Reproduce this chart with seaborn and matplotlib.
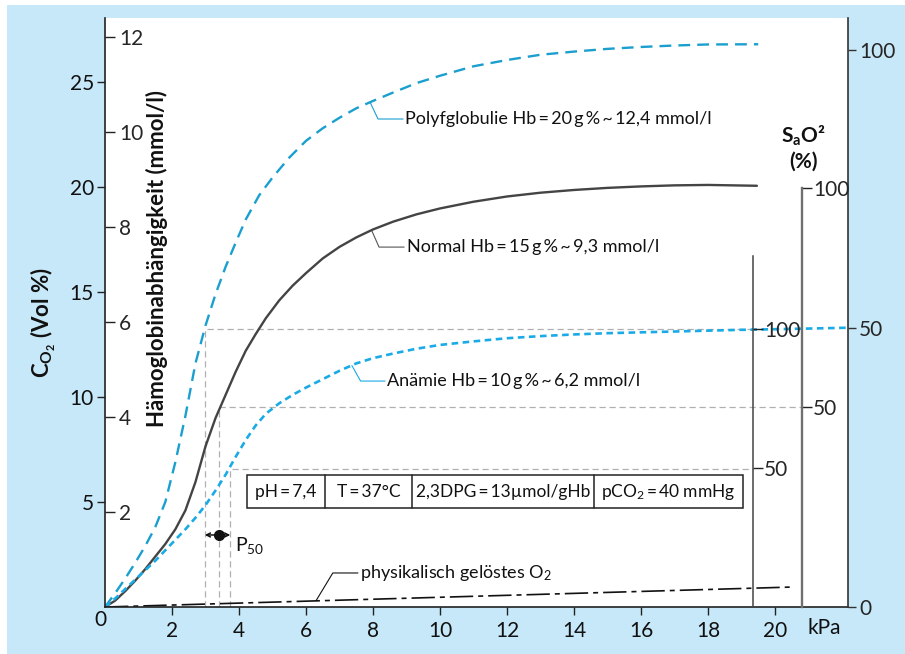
import matplotlib
matplotlib.use("Agg")
import matplotlib.pyplot as plt
import seaborn as sns
from matplotlib.patches import Rectangle

# O2 binding curves: pO2 (kPa) vs O2 content (Vol %)
poly_kpa = [0, 0.3, 0.6, 0.9, 1.2, 1.5, 1.8, 2.1, 2.4, 2.7, 3.0, 3.3, 3.6, 3.9, 4.2, 4.6,
            5.0, 5.5, 6.0, 6.5, 7.0, 7.5, 8.0, 8.6, 9.3, 10.0, 11.0, 12.0, 13.0, 14.0,
            15.0, 16.0, 17.0, 18.0, 19.5]
poly_vol = [0, 0.65, 1.35, 2.1, 2.9, 3.8, 5.0, 6.9, 9.1, 11.6, 13.4, 14.9, 16.2, 17.35,
            18.45, 19.6, 20.45, 21.4, 22.2, 22.8, 23.3, 23.75, 24.1, 24.5, 24.95, 25.3,
            25.75, 26.05, 26.3, 26.45, 26.58, 26.67, 26.74, 26.79, 26.8]

normal_kpa = [0, 0.3, 0.6, 0.9, 1.2, 1.5, 1.8, 2.1, 2.4, 2.7, 3.0, 3.3, 3.6, 3.9, 4.2,
              4.5, 4.8, 5.2, 5.6, 6.0, 6.5, 7.0, 7.5, 8.0, 8.6, 9.3, 10.0, 11.0, 12.0,
              13.0, 14.0, 15.0, 16.0, 17.0, 18.0, 19.46]
normal_vol = [0, 0.3, 0.75, 1.25, 1.8, 2.4, 3.0, 3.7, 4.6, 5.95, 7.65, 9.0, 10.1, 11.2,
              12.2, 13.0, 13.75, 14.6, 15.3, 15.9, 16.6, 17.15, 17.6, 17.98, 18.35, 18.7,
              18.98, 19.3, 19.55, 19.73, 19.86, 19.96, 20.03, 20.08, 20.1, 20.06]

anemia_kpa = [0, 0.3, 0.6, 0.9, 1.2, 1.5, 1.8, 2.1, 2.4, 2.7, 3.0, 3.3, 3.6, 3.9, 4.2,
              4.5, 4.8, 5.2, 5.6, 6.0, 6.5, 7.0, 7.5, 8.0, 8.6, 9.3, 10.0, 11.0, 12.0,
              13.0, 14.0, 15.0, 16.0, 17.0, 18.0, 19.0, 20.0, 21.0, 22.18]
anemia_vol = [0, 0.4, 0.85, 1.3, 1.75, 2.2, 2.7, 3.2, 3.7, 4.25, 4.85, 5.55, 6.3, 7.15,
              7.95, 8.65, 9.2, 9.7, 10.1, 10.45, 10.85, 11.25, 11.6, 11.85, 12.07, 12.3,
              12.48, 12.65, 12.8, 12.9, 12.98, 13.04, 13.08, 13.12, 13.16, 13.2, 13.23,
              13.26, 13.3]

dissolved_kpa = [0, 20.5]
dissolved_vol = [0, 0.95]

# half saturation points (P50) of the three curves
p50_kpa = [2.98, 3.41, 3.74]
half_vol = [13.24, 9.52, 6.57]
guide_end = [19.34, 20.8, 19.34]

p50_normal = 3.41
p50_marker_vol = 3.43

table_cells = ["pH\u2009=\u20097,4", "T\u2009=\u200937°C", "2,3DPG\u2009=\u200913µmol/gHb",
               "pCO$_2$\u2009=\u200940 mmHg"]
table_edges = [4.24, 6.57, 9.16, 14.6, 19.04]
table_bottom, table_top = 4.71, 6.29

vol_ticks = [5, 10, 15, 20, 25]
hb_ticks = [2, 4, 6, 8, 10, 12]
kpa_ticks = [2, 4, 6, 8, 10, 12, 14, 16, 18, 20]
sat_ticks = [0, 50, 100]

BG = "#c7e8f8"
BLUE_POLY = "#1b9fcf"
BLUE_ANEMIA = "#1aabe6"
DARK = "#444444"
GUIDE = "#b0b0b0"

sns.set_theme(style="white")
plt.rcParams['font.family'] = ['Lato', 'DejaVu Sans']
plt.rcParams['mathtext.fontset'] = 'custom'
plt.rcParams['mathtext.rm'] = 'Lato'
plt.rcParams['mathtext.it'] = 'Lato:italic'
plt.rcParams['mathtext.bf'] = 'Lato:bold'
plt.rcParams['text.color'] = '#111111'

W, H = 905, 654
TICK_FS = 15
TXT_FS = 13
TABLE_FS = 12.5


def fx(px):
    return px / W


def fy(py):
    return 1 - py / H


fig = plt.figure(figsize=(W / 100, H / 100), dpi=100, facecolor="white")
fig.patches.append(Rectangle((fx(7), 0), 1 - fx(7), fy(5), transform=fig.transFigure,
                             facecolor=BG, edgecolor="none", zorder=-10))

# main axes
ax = fig.add_axes([fx(105), fy(607), (848 - 105) / W, (607 - 18) / H])
ax.set_facecolor("white")
ax.set_xlim(0, 22.18)
ax.set_ylim(0, 28.05)
for s in ["top", "right"]:
    ax.spines[s].set_visible(False)
for s in ["left", "bottom"]:
    ax.spines[s].set_color("#222222")
    ax.spines[s].set_linewidth(1.2)
ax.set_xticks(kpa_ticks)
ax.set_yticks(vol_ticks)
ax.tick_params(axis="both", which="both", direction="out", length=6, width=1,
               color="#222222", labelsize=TICK_FS, pad=2, labelcolor="#111111")
ax.tick_params(axis="x", pad=4, bottom=True)
ax.tick_params(axis="y", left=True)
ax.set_xlabel("")
ax.set_ylabel("")

# curves
sns.lineplot(x=poly_kpa, y=poly_vol, ax=ax, color=BLUE_POLY, linewidth=1.7,
             linestyle=(0, (5, 3)), sort=False, errorbar=None)
sns.lineplot(x=normal_kpa, y=normal_vol, ax=ax, color=DARK, linewidth=1.7,
             sort=False, errorbar=None)
sns.lineplot(x=anemia_kpa, y=anemia_vol, ax=ax, color=BLUE_ANEMIA, linewidth=1.9,
             linestyle=(0, (2.5, 1.7)), sort=False, errorbar=None, clip_on=False)
sns.lineplot(x=dissolved_kpa, y=dissolved_vol, ax=ax, color="#111111", linewidth=1.2,
             linestyle=(0, (14, 3, 3, 3)), sort=False, errorbar=None)

# P50 guide lines
for xk, yv, xe in zip(p50_kpa, half_vol, guide_end):
    ax.plot([xk, xk, xe], [0, yv, yv], color=GUIDE, lw=0.9, ls=(0, (5, 3)), zorder=1)

# P50 marker
ax.annotate("", xy=(p50_kpa[0], p50_marker_vol), xytext=(p50_kpa[2], p50_marker_vol),
            arrowprops=dict(arrowstyle="<->", color="#111111", lw=1.1,
                            shrinkA=0, shrinkB=0, mutation_scale=7))
ax.plot([p50_normal], [p50_marker_vol], "o", color="#111111", ms=7)
ax.text(3.88, 2.95, "P$_{50}$", fontsize=TXT_FS + 1, va="center", ha="left")

# conditions table
ax.add_patch(Rectangle((table_edges[0], table_bottom), table_edges[-1] - table_edges[0],
                       table_top - table_bottom, facecolor="white", edgecolor="#222222",
                       lw=1.1, zorder=3))
for xe in table_edges[1:-1]:
    ax.plot([xe, xe], [table_bottom, table_top], color="#222222", lw=1.1, zorder=4)
for left, right, label in zip(table_edges[:-1], table_edges[1:], table_cells):
    ax.text((left + right) / 2, (table_bottom + table_top) / 2, label, ha="center",
            va="center", fontsize=TABLE_FS, zorder=5)

# curve labels with leaders
ax.plot([7.91, 8.15, 8.9], [24.05, 23.24, 23.24], color=BLUE_POLY, lw=0.8)
ax.text(8.96, 23.24, "Polyfglobulie Hb\u2009=\u200920\u2009g\u2009%\u2009~\u200912,4 mmol/l",
        fontsize=TXT_FS, va="center", ha="left")
ax.plot([7.97, 8.18, 8.93], [17.9, 17.14, 17.14], color="#555555", lw=0.8)
ax.text(9.01, 17.14, "Normal Hb\u2009=\u200915\u2009g\u2009%\u2009~\u20099,3 mmol/l",
        fontsize=TXT_FS, va="center", ha="left")
ax.plot([7.37, 7.63, 8.36], [11.5, 10.76, 10.76], color=BLUE_ANEMIA, lw=0.8)
ax.text(8.42, 10.76, "Anämie Hb\u2009=\u200910\u2009g\u2009%\u2009~\u20096,2 mmol/l",
        fontsize=TXT_FS, va="center", ha="left")
ax.plot([6.3, 6.8, 7.55], [0.3, 1.62, 1.62], color="#111111", lw=0.8)
ax.text(7.62, 1.62, "physikalisch gelöstes O$_2$", fontsize=TXT_FS, va="center", ha="left")

# outer saturation axis (right spine)
sat_outer = ax.twinx()
sat_outer.set_ylim(0, 105.7)
sat_outer.set_yticks(sat_ticks)
for s in ["top", "left", "bottom"]:
    sat_outer.spines[s].set_visible(False)
sat_outer.spines["right"].set_color("#333333")
sat_outer.spines["right"].set_linewidth(1.2)
sat_outer.tick_params(axis="y", right=True, direction="out", length=6, width=1,
                      color="#333333", labelsize=TICK_FS, pad=2)
sat_outer.grid(False)

# hemoglobin axis drawn on the inside of the left spine
ax_hb = fig.add_axes([fx(105), fy(607), 1e-4, (607 - 18) / H])
ax_hb.set_ylim(0, 12.40)
ax_hb.set_yticks(hb_ticks)
ax_hb.yaxis.tick_right()
ax_hb.set_xticks([])
ax_hb.patch.set_visible(False)
for s in ax_hb.spines.values():
    s.set_visible(False)
ax_hb.tick_params(axis="y", right=True, direction="out", length=7, width=1,
                  color="#222222", labelsize=TICK_FS, pad=3)

# inner (anaemia) saturation axis
ax_in = fig.add_axes([fx(753), fy(607), 1e-4, (607 - 256) / H])
ax_in.set_ylim(0, 126.2)
ax_in.set_yticks([50, 100])
# normal saturation axis
ax_mid = fig.add_axes([fx(802), fy(607), 1e-4, (607 - 188) / H])
ax_mid.set_ylim(4.36, 100)
ax_mid.set_yticks([50, 100])
for a, col, lw in [(ax_in, "#444444", 1.1), (ax_mid, "#707070", 1.7)]:
    a.yaxis.tick_right()
    a.set_xticks([])
    a.patch.set_visible(False)
    for s in ["top", "left", "bottom"]:
        a.spines[s].set_visible(False)
    a.spines["right"].set_color(col)
    a.spines["right"].set_linewidth(lw)
    a.tick_params(axis="y", right=True, direction="out", length=7, width=1,
                  color="#222222", labelsize=TICK_FS, pad=1)

# axis titles
fig.text(fx(43), fy(322), r"$\mathbf{C_{O_2}}$ (Vol %)", rotation=90, ha="center",
         va="center", fontsize=16, fontweight="bold")
fig.text(fx(157), fy(258), "Hämoglobinabhängigkeit (mmol/l)", rotation=90, ha="center",
         va="center", fontsize=16, fontweight="bold")
fig.text(fx(803), fy(136), r"S$_\mathbf{a}$O²", ha="center", va="center", fontsize=15,
         fontweight="bold")
fig.text(fx(803), fy(162), "(%)", ha="center", va="center", fontsize=15, fontweight="bold")
fig.text(fx(824), fy(628), "kPa", ha="center", va="center", fontsize=TICK_FS)
fig.text(fx(100), fy(620), "0", ha="center", va="center", fontsize=TICK_FS)

fig.savefig("out.png", dpi=100, facecolor=fig.get_facecolor())
